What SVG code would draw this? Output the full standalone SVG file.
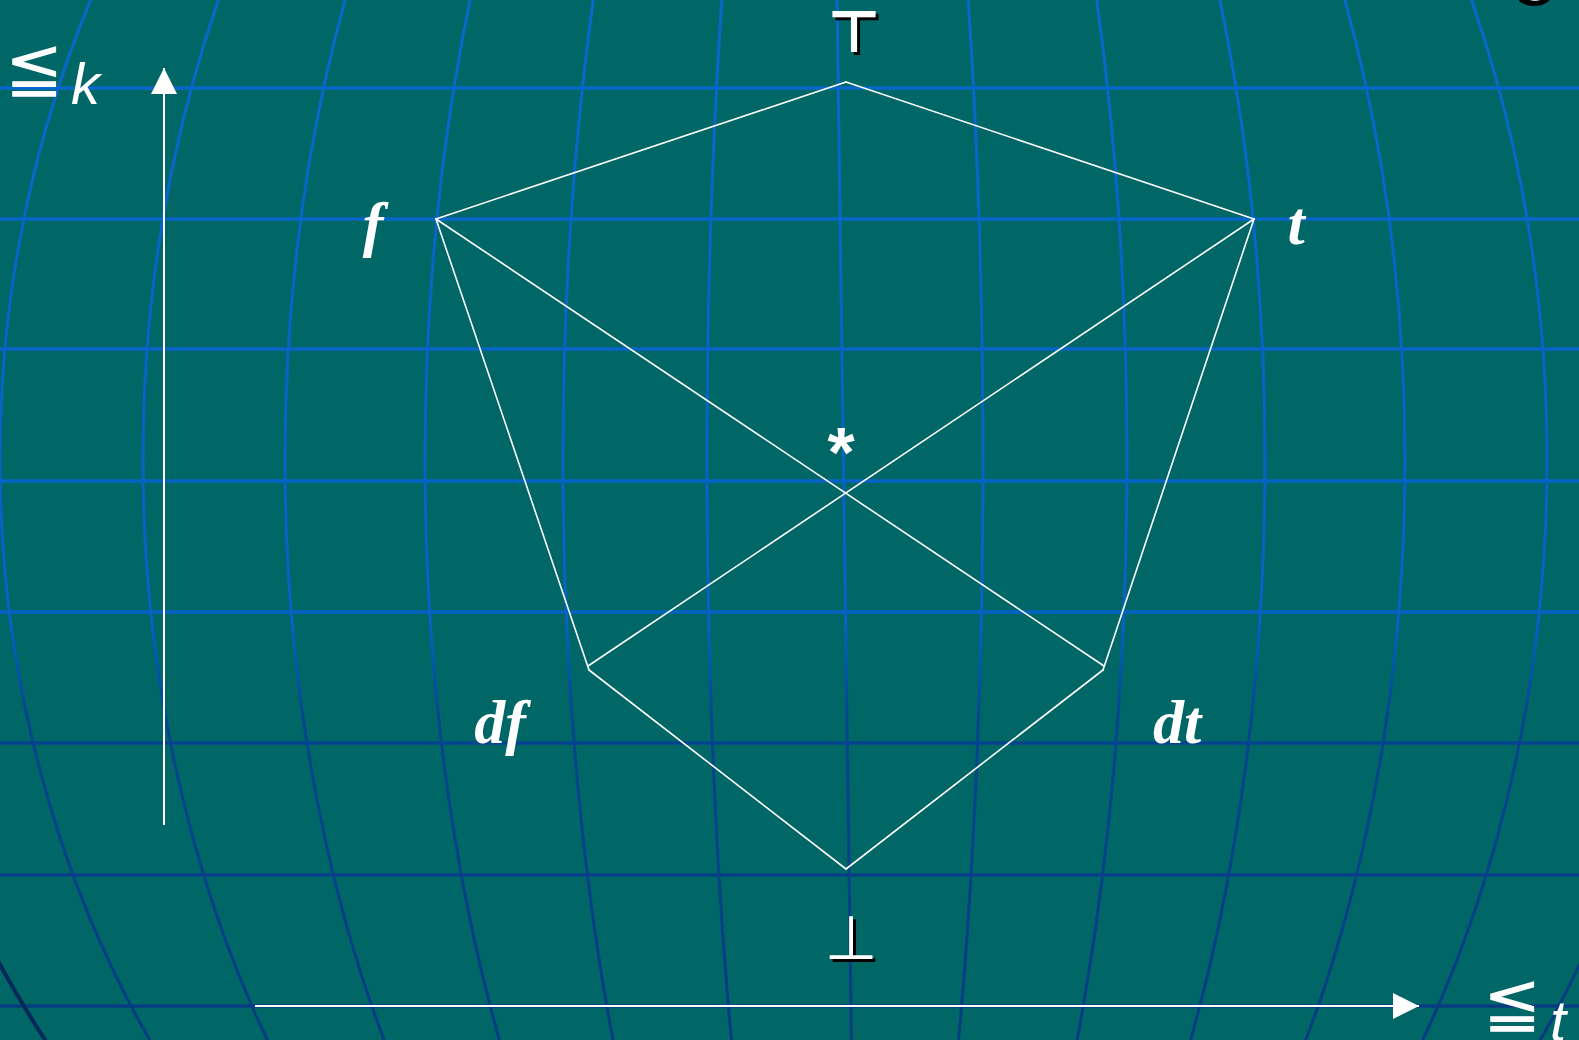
<svg xmlns="http://www.w3.org/2000/svg" width="1579" height="1040" viewBox="0 0 1579 1040">
<defs>
<linearGradient id="gridGrad" gradientUnits="userSpaceOnUse" x1="0" y1="0" x2="0" y2="1040">
<stop offset="0" stop-color="#0868cc"/>
<stop offset="0.6" stop-color="#0662c4"/>
<stop offset="0.69" stop-color="#04458f"/>
<stop offset="1" stop-color="#063c80"/>
</linearGradient>
<marker id="arrow" viewBox="0 0 26 26" refX="26" refY="13" markerWidth="26" markerHeight="26" markerUnits="userSpaceOnUse" orient="auto">
<path d="M0,0 L26,13 L0,26 Z" fill="#ffffff"/>
</marker>
<style>
.hgrid{stroke:url(#gridGrad);stroke-width:3.5;fill:none}
.vgrid{stroke:url(#gridGrad);stroke-width:3;fill:none}
.edge{stroke:#ffffff;stroke-width:1.6;fill:none;stroke-linecap:round}
.axis{stroke:#ffffff;stroke-width:2;fill:none}
.lbl{font-family:"Liberation Serif","Times New Roman",serif;font-style:italic;font-weight:bold;font-size:62px;fill:#ffffff}
.axlbl{font-family:"Liberation Sans",Arial,sans-serif;font-style:italic;font-size:58px;fill:#ffffff}
.rel{font-family:"DejaVu Sans",sans-serif;font-size:70px;fill:#ffffff}
.sym{font-family:"DejaVu Sans",sans-serif;fill:#ffffff}
.shadow{fill:#000000}
</style>
</defs>
<rect x="0" y="0" width="1579" height="1040" fill="#006666"/>
<g id="background-grid">
<line class="hgrid" x1="0" y1="88" x2="1579" y2="88"/>
<line class="hgrid" x1="0" y1="219" x2="1579" y2="219"/>
<line class="hgrid" x1="0" y1="349" x2="1579" y2="349"/>
<line class="hgrid" x1="0" y1="481" x2="1579" y2="481"/>
<line class="hgrid" x1="0" y1="612" x2="1579" y2="612"/>
<line class="hgrid" x1="0" y1="743" x2="1579" y2="743"/>
<line class="hgrid" x1="0" y1="875" x2="1579" y2="875"/>
<line class="hgrid" x1="0" y1="1006" x2="1579" y2="1006"/>
<line class="vgrid" x1="837" y1="-5" x2="851.5" y2="1045"/>
<ellipse class="vgrid" cx="845" cy="460" rx="138" ry="1020"/>
<ellipse class="vgrid" cx="845" cy="460" rx="282" ry="1020"/>
<ellipse class="vgrid" cx="845" cy="460" rx="420" ry="1020"/>
<ellipse class="vgrid" cx="845" cy="460" rx="560" ry="1020"/>
<ellipse class="vgrid" cx="845" cy="460" rx="702" ry="1020"/>
<ellipse class="vgrid" cx="845" cy="460" rx="845" ry="1020"/>
<ellipse cx="845" cy="460" rx="972" ry="1020" fill="none" stroke="#062a58" stroke-width="4"/>
<ellipse cx="1534" cy="-6" rx="18" ry="12" fill="#000000"/>
<ellipse cx="1535" cy="-8" rx="11" ry="9" fill="#d8d8d8"/>
</g>
<g id="connectors">
<line class="edge" x1="846" y1="82" x2="436" y2="219"/>
<line class="edge" x1="846" y1="82" x2="1254" y2="219"/>
<line class="edge" x1="436" y1="219" x2="589" y2="670"/>
<line class="edge" x1="1254" y1="219" x2="1103" y2="670"/>
<line class="edge" x1="436" y1="219" x2="1104" y2="666"/>
<line class="edge" x1="1254" y1="219" x2="588" y2="666"/>
<line class="edge" x1="589" y1="670" x2="846" y2="869"/>
<line class="edge" x1="1103" y1="670" x2="846" y2="869"/>
<line class="axis" x1="164" y1="825" x2="164" y2="68" marker-end="url(#arrow)"/>
<line class="axis" x1="255" y1="1006" x2="1419" y2="1006" marker-end="url(#arrow)"/>
</g>
<g id="node-top">
<text class="sym shadow" x="857" y="55" font-size="58" font-weight="bold" text-anchor="middle">⊤</text>
<text class="sym" x="854" y="52" font-size="58" font-weight="bold" text-anchor="middle">⊤</text>
</g>
<g id="node-f">
<text class="lbl" x="373" y="245" text-anchor="middle" font-size="64">f</text>
</g>
<g id="node-t">
<text class="lbl" x="1296" y="244" text-anchor="middle">t</text>
</g>
<g id="node-star">
<text x="841" y="477" font-family="Liberation Sans, Arial, sans-serif" font-weight="bold" font-size="70" fill="#ffffff" text-anchor="middle">*</text>
</g>
<g id="node-df">
<text class="lbl" x="500" y="743" text-anchor="middle">df</text>
</g>
<g id="node-dt">
<text class="lbl" x="1177" y="743" text-anchor="middle">dt</text>
</g>
<g id="node-bottom">
<text class="sym shadow" x="854" y="962" font-size="61" text-anchor="middle">⊥</text>
<text class="sym" x="851" y="959" font-size="61" text-anchor="middle">⊥</text>
</g>
<g id="axis-k-label">
<text class="rel" x="5" y="91">≦</text>
<text class="axlbl" x="71" y="104">k</text>
</g>
<g id="axis-t-label">
<text class="rel" x="1483" y="1026">≦</text>
<text class="axlbl" x="1550" y="1041">t</text>
</g>
</svg>
